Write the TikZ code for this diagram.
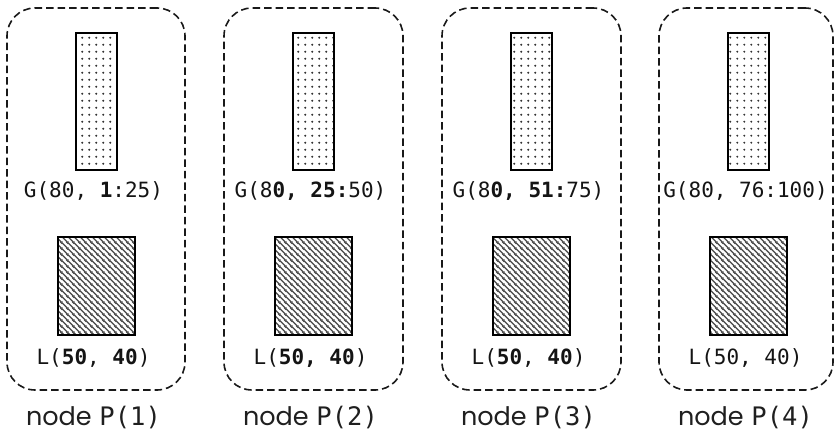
\documentclass[tikz,border=0pt]{standalone}
\usepackage{fontspec}
\setmonofont{DejaVu Sans Mono}
\newfontfamily\geofont{Poppins}
\usetikzlibrary{patterns.meta}
\tikzdeclarepattern{
  name=gdots,
  type=uncolored,
  bottom left={(0pt,0pt)},
  top right={(7.2pt,7.2pt)},
  tile size={(7.2pt,7.2pt)},
  code={\fill (3.6pt,3.6pt) circle (1.15pt);}
}
\tikzdeclarepattern{
  name=lhatch,
  type=uncolored,
  bottom left={(0pt,0pt)},
  top right={(5.6pt,5.6pt)},
  tile size={(5.6pt,5.6pt)},
  code={
    \draw[line width=1.4pt] (-1pt,6.6pt) -- (6.6pt,-1pt);
    \draw[line width=1.4pt] (-1pt,1pt) -- (1pt,-1pt);
    \draw[line width=1.4pt] (4.6pt,6.6pt) -- (6.6pt,4.6pt);
  }
}
\tikzset{
  pbox/.style={draw=black!90, line width=1.6pt, dash pattern=on 7.5pt off 4pt,
    rounded corners=28pt, minimum height=382pt, inner sep=0pt},
  gbox/.style={draw=black, line width=2.3pt, minimum width=41pt, minimum height=137pt,
    inner sep=0pt, pattern={gdots}, pattern color=black!80},
  lbox/.style={draw=black, line width=2.3pt, minimum width=77pt, minimum height=98pt,
    inner sep=0pt, pattern={lhatch}, pattern color=black!72},
  lab/.style={anchor=base, inner sep=0pt, text=black!92,
    font=\ttfamily\fontsize{21}{25}\selectfont},
  captxt/.style={anchor=base, inner sep=0pt, text=black!88,
    font=\fontsize{25.5}{30}\selectfont}
}
\newcommand\drawpanel[6]{%
  \pgfmathsetmacro\bx{#2+#3/2}%
  \pgfmathsetmacro\cx{#2+89.5}%
  \pgfmathsetmacro\lx{#2+86.5}%
  \node[pbox, minimum width=#3pt] (p#1) at (\bx pt,-199pt) {};
  \node[gbox] (g#1) at (\cx pt,-101.5pt) {};
  \node[lbox] (l#1) at (\cx pt,-286pt) {};
  \node[lab] (gl#1) at (\lx pt,-197pt) {#4};
  \node[lab] (ll#1) at (\lx pt,-364pt) {#5};
  \node[captxt] (c#1) at (\lx pt,-425pt) {{\geofont node} {\ttfamily P(#6)}};
}
\begin{document}
\begin{tikzpicture}
\useasboundingbox (0,0) rectangle (835pt,-433pt);
\drawpanel{1}{7}{178}{G(80, \textbf{1}:25)}{L(\textbf{50}, \textbf{40})}{1}
\drawpanel{2}{224}{179}{G(8\textbf{0, 25:}50)}{L(\textbf{50, 40})}{2}
\drawpanel{3}{442}{179}{G(8\textbf{0, 51:}75)}{L(\textbf{50}, \textbf{40})}{3}
\drawpanel{4}{659}{174}{G(80, 76:100)}{L(50, 40)}{4}
\end{tikzpicture}
\end{document}
